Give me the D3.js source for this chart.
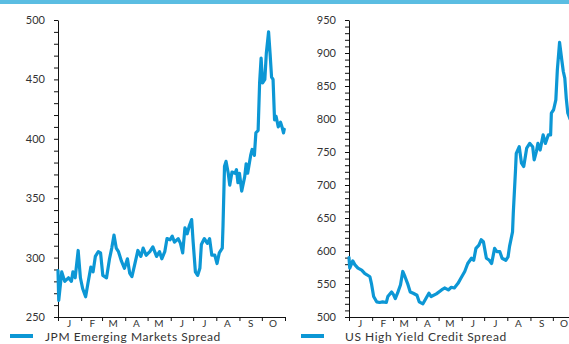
<!DOCTYPE html>
<html>
<head>
<meta charset="utf-8">
<script src="https://cdn.jsdelivr.net/npm/d3@7"></script>
<style>
  body { margin: 0; background: #fff; }
  svg { display: block; }
</style>
</head>
<body>
<svg id="chart" width="569" height="344"></svg>
<script>
// JPM Emerging Markets spread (bp), 2002
const emDates = ["2002-01-01","2002-01-02","2002-01-06","2002-01-10","2002-01-15","2002-01-19","2002-01-21","2002-01-24","2002-01-28","2002-01-31",
  "2002-02-03","2002-02-07","2002-02-10","2002-02-14","2002-02-17","2002-02-20","2002-02-24","2002-02-27",
  "2002-03-02","2002-03-07","2002-03-11","2002-03-14","2002-03-17","2002-03-20","2002-03-23","2002-03-27","2002-03-31",
  "2002-04-04","2002-04-07","2002-04-10","2002-04-14","2002-04-18","2002-04-22","2002-04-25","2002-04-29",
  "2002-05-04","2002-05-08","2002-05-13","2002-05-17","2002-05-20","2002-05-24","2002-05-27","2002-05-31",
  "2002-06-03","2002-06-06","2002-06-11","2002-06-14","2002-06-17","2002-06-20","2002-06-23","2002-06-26","2002-06-29",
  "2002-07-01","2002-07-04","2002-07-07","2002-07-10","2002-07-12","2002-07-16","2002-07-20","2002-07-23","2002-07-26","2002-07-30",
  "2002-08-02","2002-08-05","2002-08-09","2002-08-10","2002-08-12","2002-08-14","2002-08-17","2002-08-19","2002-08-22","2002-08-26","2002-08-28","2002-08-30",
  "2002-09-01","2002-09-04","2002-09-08","2002-09-10","2002-09-12","2002-09-16","2002-09-18","2002-09-21","2002-09-23","2002-09-26","2002-09-28","2002-09-30",
  "2002-10-02","2002-10-05","2002-10-07","2002-10-10","2002-10-12","2002-10-14","2002-10-16","2002-10-18","2002-10-20","2002-10-23","2002-10-26","2002-10-28","2002-10-30","2002-10-31"];
const emValues = [289,264,288,280,283,280,288,283,306,283,
  274,267,278,292,288,301,305,304,
  285,283,299,308,319,308,305,297,291,
  299,287,284,295,306,301,308,302,
  305,309,301,305,299,305,316,315,
  318,313,316,312,304,325,320,327,332,
  313,288,285,291,311,316,312,316,302,302,
  295,304,308,327,377,381,371,361,372,371,374,363,
  371,356,368,379,371,386,391,386,405,407,447,468,
  447,450,472,490,472,452,450,416,419,410,414,410,405,408];

// US High Yield credit spread (bp), 2002
const hyDates = ["2002-01-01","2002-01-02","2002-01-06","2002-01-09","2002-01-13","2002-01-18","2002-01-22","2002-01-25","2002-01-29","2002-01-31",
  "2002-02-03","2002-02-07","2002-02-11","2002-02-15","2002-02-20","2002-02-22","2002-02-27",
  "2002-03-02","2002-03-04","2002-03-07","2002-03-11","2002-03-14","2002-03-17","2002-03-21","2002-03-24","2002-03-28",
  "2002-04-02","2002-04-05","2002-04-10","2002-04-14","2002-04-18","2002-04-21","2002-04-28",
  "2002-05-05","2002-05-09","2002-05-14","2002-05-18","2002-05-22","2002-05-27","2002-05-31",
  "2002-06-05","2002-06-09","2002-06-14","2002-06-17","2002-06-20","2002-06-24","2002-06-27","2002-06-30",
  "2002-07-04","2002-07-08","2002-07-11","2002-07-15","2002-07-18","2002-07-22","2002-07-25","2002-07-30",
  "2002-08-02","2002-08-04","2002-08-08","2002-08-09","2002-08-12","2002-08-13","2002-08-17","2002-08-20","2002-08-23","2002-08-27","2002-08-31",
  "2002-09-04","2002-09-06","2002-09-09","2002-09-11","2002-09-14","2002-09-18","2002-09-21","2002-09-25","2002-09-28","2002-09-29",
  "2002-10-02","2002-10-05","2002-10-07","2002-10-10","2002-10-13","2002-10-15","2002-10-17","2002-10-19","2002-10-21","2002-10-24"];
const hyValues = [590,574,585,579,574,571,566,564,561,551,
  531,523,522,523,522,531,538,
  533,528,536,549,569,561,549,538,536,
  533,523,520,528,536,531,535,
  541,544,541,545,544,551,559,
  569,581,589,586,604,609,617,614,
  589,586,581,604,599,599,589,586,
  591,607,629,657,723,748,758,733,728,756,763,
  758,738,751,763,753,776,763,776,776,809,
  814,829,874,916,889,872,862,831,809,800];

const monthLabels = ["J","F","M","A","M","J","J","A","S","O"];
const emTicks = [250, 300, 350, 400, 450, 500];
const hyTicks = [500, 550, 600, 650, 700, 750, 800, 850, 900, 950];
const seriesNames = ["JPM Emerging Markets Spread", "US High Yield Credit Spread"];

const FONT = "Lato, 'Open Sans', sans-serif";
const TEXT = "#333";
const LINE = "#0c97d5";

const parse = d3.timeParse("%Y-%m-%d");
const svg = d3.select("#chart");

// header band
svg.append("rect").attr("x", 0).attr("y", 0).attr("width", 569).attr("height", 4).attr("fill", "#5bbde2");

const panels = [
  { dates: emDates, values: emValues, ticks: emTicks, name: seriesNames[0], left: 58, legendLine: 10, legendText: 45 },
  { dates: hyDates, values: hyValues, ticks: hyTicks, name: seriesNames[1], left: 349, legendLine: 301, legendText: 345 }
];

const plotTop = 20, plotBottom = 317, plotWidth = 227;
const xStart = new Date(2002, 0, 1), xEnd = new Date(2002, 10, 1);

panels.forEach(p => {
  const x = d3.scaleTime().domain([xStart, xEnd]).range([p.left, p.left + plotWidth]);
  const lo = p.ticks[0], hi = p.ticks[p.ticks.length - 1];
  const y = d3.scaleLinear().domain([lo, hi]).range([plotBottom, plotTop]);

  // y axis: minor tick every 10, labels every 50
  const minor = d3.range(lo, hi + 1, 10);
  const yAxis = svg.append("g")
    .attr("transform", `translate(${p.left},0)`)
    .call(d3.axisLeft(y).tickValues(minor).tickSize(4).tickSizeOuter(0).tickPadding(9)
      .tickFormat(v => p.ticks.includes(v) ? v : ""));
  yAxis.selectAll(".tick text").filter(v => !p.ticks.includes(v)).remove();
  yAxis.selectAll("text").attr("font-family", FONT).attr("font-size", 11).attr("fill", TEXT);

  // x axis: tick at each month boundary
  const xAxis = svg.append("g")
    .attr("transform", `translate(0,${plotBottom})`)
    .call(d3.axisBottom(x).tickValues(d3.timeMonth.range(xStart, d3.timeDay.offset(xEnd, 1)))
      .tickSize(4).tickSizeOuter(0));
  xAxis.selectAll(".tick text").remove();
  [yAxis, xAxis].forEach(g => {
    g.select(".domain").attr("stroke", "#111");
    g.selectAll(".tick line").attr("stroke", "#111");
  });

  // month initials centred in each month
  svg.append("g").selectAll("text").data(monthLabels).join("text")
    .attr("x", (d, i) => x(new Date(2002, i, 16)))
    .attr("y", 327.3)
    .attr("text-anchor", "middle")
    .attr("font-family", FONT).attr("font-size", 10).attr("fill", TEXT)
    .text(d => d);

  const data = p.dates.map((d, i) => ({ date: parse(d), value: p.values[i] }));
  svg.append("path").datum(data)
    .attr("fill", "none").attr("stroke", LINE).attr("stroke-width", 3.2)
    .attr("stroke-linejoin", "round").attr("stroke-linecap", "round")
    .attr("d", d3.line().x(d => x(d.date)).y(d => y(d.value)));

  // legend
  svg.append("line")
    .attr("x1", p.legendLine).attr("x2", p.legendLine + 23)
    .attr("y1", 336).attr("y2", 336)
    .attr("stroke", LINE).attr("stroke-width", 4);
  svg.append("text")
    .attr("x", p.legendText).attr("y", 341.3)
    .attr("font-family", FONT).attr("font-size", 12).attr("letter-spacing", 0.55).attr("fill", TEXT)
    .text(p.name);
});
</script>
</body>
</html>
